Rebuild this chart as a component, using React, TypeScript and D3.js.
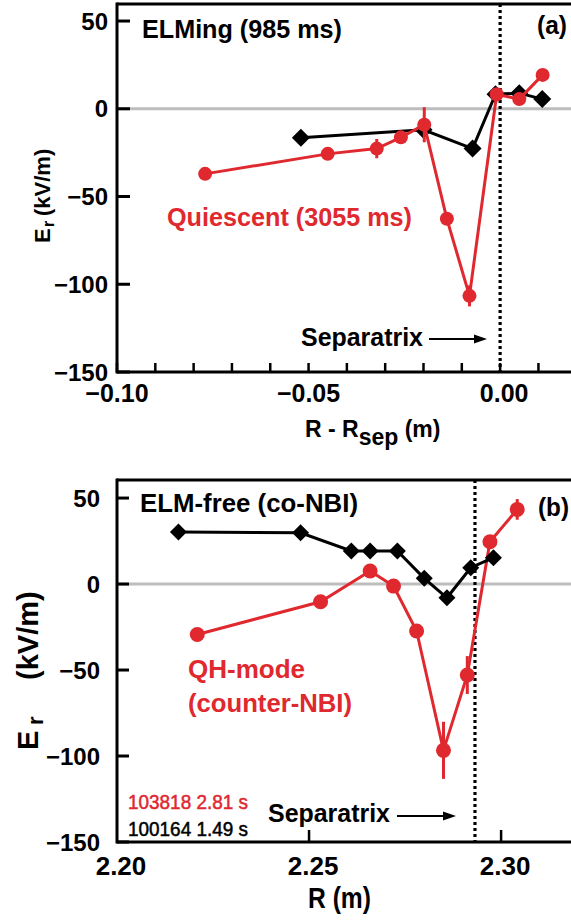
import React from "react";
import * as d3 from "d3";

// ---------- data ----------
// Panel (a): Er vs R - Rsep
const elmingX = [-0.052, -0.020, -0.0072, -0.0012, 0.0050, 0.0110];
const elmingY = [-16.5, -12, -22.7, 8.3, 8.9, 5.5];
const quiescentX = [-0.077, -0.045, -0.0322, -0.0259, -0.0198, -0.0139, -0.0080, -0.0009, 0.0050, 0.0111];
const quiescentY = [-37.1, -25.7, -22.7, -16.3, -9.1, -62.7, -106.6, 8.3, 5.5, 19.3];
const quiescentErr = [0, 0, 5.5, 0, 10, 0, 6, 0, 0, 0];
const topXTicks = [-0.10, -0.09, -0.08, -0.07, -0.06, -0.05, -0.04, -0.03, -0.02, -0.01, 0.0, 0.01];
const topXLabels = [
  { v: -0.10, t: "\u22120.10" },
  { v: -0.05, t: "\u22120.05" },
  { v: 0.0, t: "0.00" },
];
const topSeparatrix = 0.0;

// Panel (b): Er vs R
const elmFreeX = [2.216, 2.2478, 2.261, 2.2659, 2.273, 2.280, 2.2859, 2.2921, 2.298];
const elmFreeY = [30.2, 29.8, 19.2, 19.2, 19.2, 3.3, -8.0, 9.5, 15.3];
const qhX = [2.2209, 2.253, 2.2659, 2.272, 2.278, 2.285, 2.2912, 2.2971, 2.3042];
const qhY = [-29.3, -10.3, 7.6, -1.2, -27.3, -96.7, -52.9, 24.6, 43.4];
const qhErr = [0, 0, 0, 0, 0, 16.6, 11, 0, 6];
const botXTicks = [2.25, 2.30];
const botXLabels = [
  { v: 2.20, t: "2.20" },
  { v: 2.25, t: "2.25" },
  { v: 2.30, t: "2.30" },
];
const botSeparatrix = 2.2932;

const yTicks = [50, 0, -50, -100, -150];
const yTickLabels = ["50", "0", "\u221250", "\u2212100", "\u2212150"];

// ---------- style ----------
const FONT = "'Liberation Sans', Arial, Helvetica, sans-serif";
const RED = "#e0282f";
const GRAY = "#bdbdbd";

const W = 571;
const H = 921;

function diamond(cx: number, cy: number, r: number) {
  return `M${cx},${cy - r}L${cx + r},${cy}L${cx},${cy + r}L${cx - r},${cy}Z`;
}

type PanelProps = {
  x: d3.ScaleLinear<number, number>;
  y: d3.ScaleLinear<number, number>;
  xTicks: number[];
  xTickLen: number;
  yTickLen: number;
  xLabels: { v: number; t: string }[];
  xLabelBaseline: number;
  xLabelSize: number;
  yLabelRight: number;
  sep: number;
  blackX: number[];
  blackY: number[];
  redX: number[];
  redY: number[];
  redErr: number[];
  diamondR: number;
  circleR: number;
  redOnTop: boolean;
};

function Panel(p: PanelProps) {
  const { x, y } = p;
  const [x0, x1] = x.range();
  const [yb, yt] = y.range();
  const line = d3
    .line<[number, number]>()
    .x((d) => x(d[0]))
    .y((d) => y(d[1]));
  const blackPts: [number, number][] = p.blackX.map((v, i) => [v, p.blackY[i]]);
  const redPts: [number, number][] = p.redX.map((v, i) => [v, p.redY[i]]);

  const black = (
    <g key="black">
      <path d={line(blackPts) || ""} fill="none" stroke="#000" strokeWidth={3} />
      {blackPts.map((d, i) => (
        <path key={i} d={diamond(x(d[0]), y(d[1]), p.diamondR)} fill="#000" />
      ))}
    </g>
  );
  const red = (
    <g key="red">
      <path d={line(redPts) || ""} fill="none" stroke={RED} strokeWidth={3} />
      {redPts.map((d, i) =>
        p.redErr[i] > 0 ? (
          <line
            key={"e" + i}
            x1={x(d[0])}
            x2={x(d[0])}
            y1={y(d[1] - p.redErr[i])}
            y2={y(d[1] + p.redErr[i])}
            stroke={RED}
            strokeWidth={3}
          />
        ) : null
      )}
      {redPts.map((d, i) => (
        <circle key={i} cx={x(d[0])} cy={y(d[1])} r={p.circleR} fill={RED} />
      ))}
    </g>
  );

  return (
    <g>
      <line x1={x0} x2={x1} y1={y(0)} y2={y(0)} stroke={GRAY} strokeWidth={3} />
      <line
        x1={x(p.sep)}
        x2={x(p.sep)}
        y1={yt}
        y2={yb}
        stroke="#000"
        strokeWidth={3.2}
        strokeDasharray="3,3"
      />
      {p.redOnTop ? [black, red] : [red, black]}
      <line x1={x0} x2={x1} y1={yt} y2={yt} stroke="#000" strokeWidth={3} />
      <line x1={x0} x2={x0} y1={yt - 1.5} y2={yb + 1.5} stroke="#000" strokeWidth={3} />
      <line x1={x0} x2={x1} y1={yb} y2={yb} stroke="#000" strokeWidth={3} />
      {yTicks.map((v, i) => (
        <g key={"yt" + i}>
          <line x1={x0} x2={x0 + p.yTickLen} y1={y(v)} y2={y(v)} stroke="#000" strokeWidth={3} />
          <text
            x={p.yLabelRight}
            y={y(v) + 8.5}
            textAnchor="end"
            fontFamily={FONT}
            fontWeight="bold"
            fontSize={24}
          >
            {yTickLabels[i]}
          </text>
        </g>
      ))}
      {p.xTicks.map((v, i) => (
        <line
          key={"xt" + i}
          x1={x(v)}
          x2={x(v)}
          y1={yb}
          y2={yb - p.xTickLen}
          stroke="#000"
          strokeWidth={2.5}
        />
      ))}
      {p.xLabels.map((l, i) => (
        <text
          key={"xl" + i}
          x={x(l.v) + (l.t.startsWith("\u2212") ? 0 : 4)}
          y={p.xLabelBaseline}
          textAnchor="middle"
          fontFamily={FONT}
          fontWeight="bold"
          fontSize={p.xLabelSize}
        >
          {l.t}
        </text>
      ))}
    </g>
  );
}

function Arrow({ x1, x2, yy }: { x1: number; x2: number; yy: number }) {
  return (
    <g>
      <line x1={x1} x2={x2 - 10} y1={yy} y2={yy} stroke="#000" strokeWidth={2} />
      <path d={`M${x2},${yy}L${x2 - 13},${yy - 4.5}L${x2 - 13},${yy + 4.5}Z`} fill="#000" />
    </g>
  );
}

function Label(props: { x: number; y: number; len: number; fill?: string; children: string }) {
  return (
    <text
      x={props.x}
      y={props.y}
      fontFamily={FONT}
      fontWeight="bold"
      fontSize={26.5}
      fill={props.fill || "#000"}
      textLength={props.len}
      lengthAdjust="spacingAndGlyphs"
    >
      {props.children}
    </text>
  );
}

export default function App() {
  const xA = d3.scaleLinear().domain([-0.10, 0.0185]).range([117, W]);
  const yA = d3.scaleLinear().domain([-150, 59.7]).range([372, 4]);
  const xB = d3.scaleLinear().domain([2.20, 2.3182]).range([117, W]);
  const yB = d3.scaleLinear().domain([-150, 60.5]).range([842, 480]);

  return (
    <svg
      width={W}
      height={H}
      viewBox={`0 0 ${W} ${H}`}
      style={{ position: "absolute", left: 0, top: 0, background: "#fff" }}
    >
      <rect x={0} y={0} width={W} height={H} fill="#fff" />
      {/* Panel (a) */}
      <Panel
        x={xA}
        y={yA}
        xTicks={topXTicks}
        xTickLen={9}
        yTickLen={13}
        xLabels={topXLabels}
        xLabelBaseline={402}
        xLabelSize={25}
        yLabelRight={108}
        sep={topSeparatrix}
        blackX={elmingX}
        blackY={elmingY}
        redX={quiescentX}
        redY={quiescentY}
        redErr={quiescentErr}
        diamondR={9}
        circleR={7}
        redOnTop={true}
      />
      <Label x={142} y={38} len={200}>ELMing (985 ms)</Label>
      <Label x={537} y={34} len={30}>(a)</Label>
      <Label x={167} y={226} len={245} fill={RED}>Quiescent (3055 ms)</Label>
      <Label x={301} y={346} len={122}>Separatrix</Label>
      <Arrow x1={429} x2={487} yy={339} />
      <text transform="translate(50,243) rotate(-90)" fontFamily={FONT} fontWeight="bold" fontSize={22}>
        <tspan x={0}>E</tspan>
        <tspan x={16} dy={4} fontSize={16}>r</tspan>
        <tspan x={27} dy={-4}>(kV/m)</tspan>
      </text>
      <text x={305} y={437} fontFamily={FONT} fontWeight="bold" fontSize={23}>
        <tspan>R - R</tspan>
        <tspan dy={8}>sep</tspan>
        <tspan dy={-8}> (m)</tspan>
      </text>

      {/* Panel (b) */}
      <Panel
        x={xB}
        y={yB}
        xTicks={botXTicks}
        xTickLen={12}
        yTickLen={12}
        xLabels={botXLabels}
        xLabelBaseline={875}
        xLabelSize={26}
        yLabelRight={100}
        sep={botSeparatrix}
        blackX={elmFreeX}
        blackY={elmFreeY}
        redX={qhX}
        redY={qhY}
        redErr={qhErr}
        diamondR={8.5}
        circleR={7.5}
        redOnTop={false}
      />
      <Label x={140} y={512} len={218}>ELM-free (co-NBI)</Label>
      <Label x={538} y={516} len={31}>(b)</Label>
      <Label x={188} y={678} len={117} fill={RED}>QH-mode</Label>
      <Label x={188} y={712} len={164} fill={RED}>(counter-NBI)</Label>
      <Label x={268} y={822} len={122}>Separatrix</Label>
      <Arrow x1={397} x2={456} yy={816} />
      <text x={128} y={809} fontFamily={FONT} fontSize={20} fill={RED} stroke={RED} strokeWidth={0.5} textLength={120} lengthAdjust="spacingAndGlyphs">
        103818 2.81 s
      </text>
      <text x={128} y={836} fontFamily={FONT} fontSize={20} fill="#000" stroke="#000" strokeWidth={0.5} textLength={120} lengthAdjust="spacingAndGlyphs">
        100164 1.49 s
      </text>
      <text transform="translate(38,750) rotate(-90)" fontFamily={FONT} fontWeight="bold" fontSize={29}>
        <tspan x={0}>E</tspan>
        <tspan x={25} dy={5} fontSize={22}>r</tspan>
        <tspan x={70} dy={-5}>(kV/m)</tspan>
      </text>
      <text x={308} y={908} fontFamily={FONT} fontWeight="bold" fontSize={29} textLength={63} lengthAdjust="spacingAndGlyphs">
        R (m)
      </text>
    </svg>
  );
}
